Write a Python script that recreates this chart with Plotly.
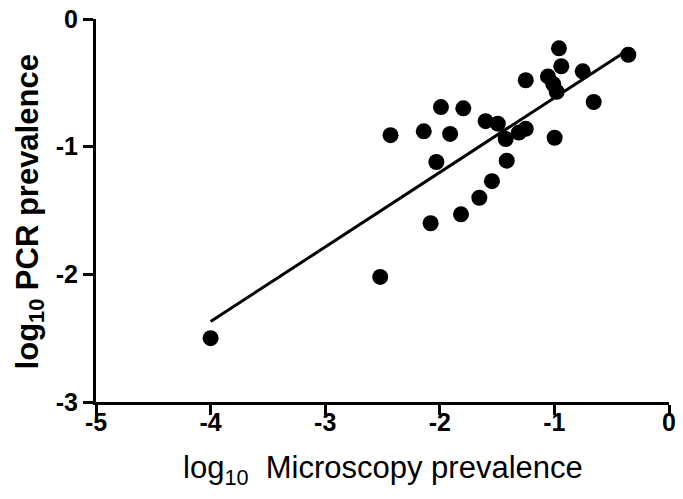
import plotly.graph_objects as go

# Data
microscopy_log = [-4.00, -2.52, -2.43, -2.14, -2.08, -2.03, -1.99, -1.91, -1.815, -1.795,
                  -1.655, -1.60, -1.545, -1.494, -1.416, -1.425, -1.31, -1.25, -1.25, -1.056,
                  -0.998, -1.01, -0.98, -0.96, -0.94, -0.753, -0.657, -0.355]
pcr_log = [-2.50, -2.02, -0.91, -0.88, -1.60, -1.12, -0.69, -0.90, -1.53, -0.70,
           -1.40, -0.80, -1.27, -0.82, -1.11, -0.94, -0.89, -0.86, -0.48, -0.45,
           -0.93, -0.51, -0.57, -0.23, -0.37, -0.41, -0.65, -0.28]
fit_x = [-4.0, -0.355]
fit_y = [-2.37, -0.24]

x_ticks = [-5, -4, -3, -2, -1, 0]
x_tick_labels = ["-5", "-4", "-3", "-2", "-1", "0"]
y_ticks = [-3, -2, -1, 0]
y_tick_labels = ["-3", "-2", "-1", "0"]

FONT = "Liberation Sans, Arial, sans-serif"

fig = go.Figure()
fig.add_trace(go.Scatter(x=fit_x, y=fit_y, mode="lines",
                         line=dict(color="black", width=3), showlegend=False))
fig.add_trace(go.Scatter(x=microscopy_log, y=pcr_log, mode="markers",
                         marker=dict(color="black", size=16), showlegend=False))

tickfont = dict(family=FONT, size=25, color="black")
fig.update_layout(
    width=675, height=491,
    margin=dict(l=88, r=14, t=11, b=97),
    plot_bgcolor="white", paper_bgcolor="white",
    font=dict(family=FONT, color="black"),
    xaxis=dict(range=[-5, 0], tickvals=x_ticks, ticktext=["<b>%s</b>" % t for t in x_tick_labels],
               showline=True, linecolor="black", linewidth=3, ticks="outside",
               ticklen=10, tickwidth=3, tickcolor="black", showgrid=False, zeroline=False,
               tickfont=tickfont, automargin=False, ticklabelstandoff=-14,
               ticklabeloverflow="allow"),
    yaxis=dict(range=[-3, 0], tickvals=y_ticks, ticktext=["<b>%s</b>" % t for t in y_tick_labels],
               showline=True, linecolor="black", linewidth=3, ticks="outside",
               ticklen=10, tickwidth=3, tickcolor="black", showgrid=False, zeroline=False,
               tickfont=tickfont, automargin=False, ticklabeloverflow="allow"),
    annotations=[
        dict(text="log<sub>10</sub>  Microscopy prevalence", xref="paper", yref="paper",
             x=0.5, y=0, yshift=-68, xanchor="center", yanchor="middle", showarrow=False,
             font=dict(size=31, family=FONT, color="black")),
        dict(text="<b>log<sub>10</sub> PCR prevalence</b>", xref="paper", yref="paper",
             x=0, y=0.495, xshift=-66, xanchor="center", yanchor="middle", showarrow=False,
             textangle=-90, font=dict(size=31, family=FONT, color="black")),
    ],
)
fig.write_html("out.html")
